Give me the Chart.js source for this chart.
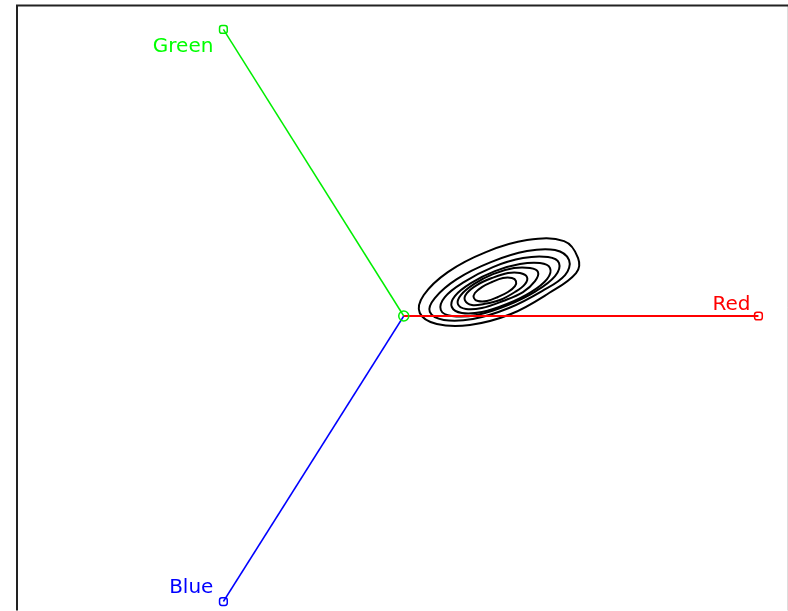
<!DOCTYPE html>
<html>
<head>
<meta charset="utf-8">
<style>
  html, body { margin: 0; padding: 0; background: #ffffff; }
  #wrap { position: relative; width: 795px; height: 617px; }
  canvas { display: block; }
</style>
<script src="https://cdn.jsdelivr.net/npm/chart.js@4/dist/chart.umd.min.js"></script>
</head>
<body>
<div id="wrap"><canvas id="c"></canvas></div>
<script>
// Colour-space projection: three channel axes leaving the origin,
// with density contours of the pixel distribution.
const axisNames = ['Green', 'Red', 'Blue'];
const axisEndX  = [-180, 354, -180];
const axisEndY  = [287, 0, -286];

// Density contour rings, outermost first, as [x, y] vertices.
const ring1 = [[174,58],[160,75],[123,76],[82,64],[44,44],[20,21],[16,3],[33,-8],[66,-9],[107,2],[145,23],[172,43]];
const ring2 = [[165,56],[151,66],[123,65],[87,54],[53,37],[31,18],[26,4],[40,-4],[69,-3],[105,8],[138,25],[161,41]];
const ring3 = [[155,53],[144,59],[119,58],[89,49],[60,34],[41,19],[37,6],[48,0],[73,1],[104,11],[132,25],[151,40]];
const ring4 = [[146,48],[136,53],[116,52],[91,45],[67,33],[51,20],[48,9],[58,3],[78,4],[103,12],[127,24],[143,37]];
const ring5 = [[134,44],[126,48],[110,48],[89,42],[70,32],[57,21],[54,12],[62,7],[78,8],[99,15],[119,24],[131,35]];
const ring6 = [[123,39],[116,43],[104,43],[88,38],[73,31],[63,23],[61,16],[68,11],[80,12],[96,16],[111,24],[121,32]];
const ring7 = [[112,35],[108,38],[99,38],[88,34],[78,29],[71,23],[70,18],[74,15],[83,15],[94,19],[104,24],[111,30]];
const rings = [ring1, ring2, ring3, ring4, ring5, ring6, ring7];

const axisColors = { Green: '#00ee00', Red: '#ff0000', Blue: '#0000ff' };
const axisWidths = { Green: 1.5, Red: 2, Blue: 1.5 };
const labelColors = { Green: '#00ff00', Red: '#ff0000', Blue: '#0000ff' };
const labelOffsets = { Green: [-10, 23], Red: [-8, -6], Blue: [-10, -9] };

const axisSets = axisNames.map((name, i) => ({
  label: name,
  data: [{ x: 0, y: 0 }, { x: axisEndX[i], y: axisEndY[i] }],
  showLine: true,
  borderColor: axisColors[name],
  borderWidth: axisWidths[name],
  pointRadius: name === 'Green' ? [5, 4.5] : [0, 4.5],
  pointStyle: ['circle', 'rectRounded'],
  pointBorderColor: axisColors[name],
  pointBorderWidth: 1.5,
  pointBackgroundColor: 'rgba(0,0,0,0)',
  tension: 0
}));

// Each ring is wrapped with one vertex on either side so the smoothed
// curve closes without a corner; the two wrap segments are left undrawn.
const ringSets = rings.map((r, i) => {
  const n = r.length;
  const seq = [r[n - 1], ...r, r[0], r[1]];
  const last = seq.length - 2;
  return {
    label: 'level ' + (i + 1),
    data: seq.map(p => ({ x: p[0], y: p[1] })),
    showLine: true,
    borderColor: '#000000',
    borderWidth: 2,
    pointRadius: 0,
    tension: 0.38,
    segment: {
      borderColor: ctx => (ctx.p0DataIndex === 0 || ctx.p0DataIndex === last) ? 'rgba(0,0,0,0)' : '#000000'
    }
  };
});

const framePlugin = {
  id: 'frame',
  beforeDraw(chart) {
    const ctx = chart.ctx;
    const a = chart.chartArea;
    ctx.save();
    ctx.fillStyle = '#ffffff';
    ctx.fillRect(0, 0, chart.width, chart.height);
    ctx.strokeStyle = '#bbbbbb';
    ctx.lineWidth = 1;
    ctx.beginPath();
    ctx.moveTo(a.right - 0.5, a.top - 2);
    ctx.lineTo(a.right - 0.5, a.bottom);
    ctx.stroke();
    ctx.strokeStyle = '#222222';
    ctx.lineWidth = 2;
    ctx.beginPath();
    ctx.moveTo(a.left - 1, a.bottom);
    ctx.lineTo(a.left - 1, a.top - 1);
    ctx.lineTo(a.right, a.top - 1);
    ctx.stroke();
    ctx.restore();
  }
};

const labelPlugin = {
  id: 'axisLabels',
  afterDatasetsDraw(chart) {
    const ctx = chart.ctx;
    const xs = chart.scales.x, ys = chart.scales.y;
    ctx.save();
    ctx.font = '20px "DejaVu Sans", sans-serif';
    ctx.textAlign = 'right';
    ctx.textBaseline = 'alphabetic';
    axisNames.forEach((name, i) => {
      const px = xs.getPixelForValue(axisEndX[i]);
      const py = ys.getPixelForValue(axisEndY[i]);
      const off = labelOffsets[name];
      ctx.fillStyle = labelColors[name];
      ctx.fillText(name, px + off[0], py + off[1]);
    });
    ctx.restore();
  }
};

new Chart(document.getElementById('c'), {
  type: 'scatter',
  data: { datasets: [...axisSets, ...ringSets] },
  options: {
    responsive: true,
    maintainAspectRatio: false,
    devicePixelRatio: 1,
    animation: false,
    layout: { padding: { left: 18, top: 6, right: 1, bottom: 0 } },
    plugins: { legend: { display: false }, tooltip: { enabled: false } },
    scales: {
      x: { type: 'linear', min: -385, max: 384, display: false },
      y: { type: 'linear', min: -295, max: 310, display: false }
    }
  },
  plugins: [framePlugin, labelPlugin]
});
</script>
</body>
</html>
